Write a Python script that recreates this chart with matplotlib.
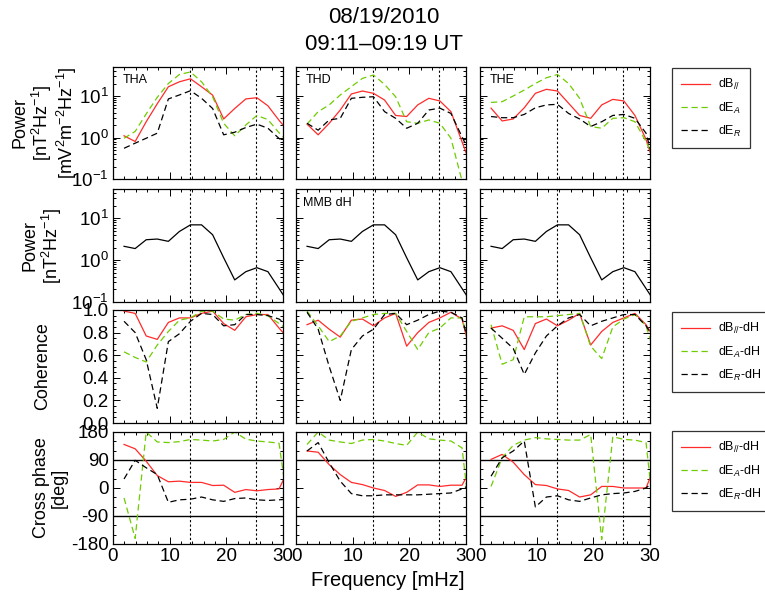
import matplotlib.pyplot as plt
from matplotlib.lines import Line2D
from matplotlib.ticker import (MultipleLocator, LogLocator, NullFormatter,
                               LogFormatterMathtext, FormatStrFormatter)

plt.rcParams['font.family'] = ['Liberation Sans', 'DejaVu Sans']
plt.rcParams['mathtext.fontset'] = 'custom'
plt.rcParams['mathtext.rm'] = 'Liberation Sans'
plt.rcParams['mathtext.it'] = 'Liberation Sans:italic'
plt.rcParams['mathtext.bf'] = 'Liberation Sans:bold'

# data ------------------------------------------

freq = [1.95, 3.91, 5.86, 7.81, 9.77, 11.72, 13.67, 15.63,
        17.58, 19.53, 21.48, 23.44, 25.39, 27.34, 29.30, 31.25]   # mHz

stations = ['THA', 'THD', 'THE']
marks = [13.6, 25.3]    # dotted frequency markers

# power spectra [nT^2/Hz], [mV^2/m^2/Hz]
tha_db = [1.1, 0.8, 2.4, 6.5, 16.7, 22, 26, 16.7, 10.5, 2.8, 5.0, 8.5, 9.1, 5.8, 2.6, 1.25]
tha_ea = [0.96, 1.4, 3.7, 9.3, 20, 33, 38, 22, 9.6, 2.2, 1.1, 2.0, 3.4, 2.7, 1.3, 0.7]
tha_er = [0.55, 0.73, 0.96, 1.27, 8.5, 10.6, 13.4, 8.8, 5.0, 1.16, 1.34, 1.74, 2.1, 1.67, 0.95, 0.58]

thd_db = [2.1, 1.16, 2.2, 4.6, 11.2, 13.2, 11.6, 8.0, 3.4, 3.2, 6.1, 8.8, 7.6, 4.2, 0.79, 0.15]
thd_ea = [2.1, 4.2, 6.1, 10.6, 16.8, 26.6, 32, 19, 9.6, 2.4, 2.2, 2.65, 2.2, 0.96, 0.09, 0.02]
thd_er = [2.2, 1.5, 2.65, 2.9, 8.8, 9.3, 9.6, 4.2, 2.9, 1.67, 2.2, 4.6, 5.1, 3.8, 1.04, 0.29]

the_db = [5.1, 2.5, 2.8, 5.2, 11.6, 14.5, 13.2, 6.7, 3.4, 2.9, 6.1, 8.3, 7.6, 3.4, 0.9, 0.13]
the_ea = [7.0, 7.3, 10, 13.9, 20, 27.5, 33, 20, 8.8, 1.84, 1.67, 2.9, 3.0, 2.4, 0.8, 0.23]
the_er = [3.2, 3.0, 3.0, 3.6, 5.2, 6.1, 6.3, 3.8, 2.8, 1.84, 2.4, 3.4, 3.6, 2.9, 1.27, 0.13]

# ground magnetometer
mmb_dh = [2.14, 1.89, 3.07, 3.19, 2.81, 4.84, 6.96, 6.96, 4.04, 1.14, 0.337, 0.53, 0.66, 0.53, 0.21, 0.083]

# coherence with MMB dH
tha_coh_db = [0.99, 0.97, 0.77, 0.74, 0.89, 0.93, 0.93, 0.97, 0.99, 0.88, 0.82, 0.94, 0.96, 0.96, 0.84, 0.73]
tha_coh_ea = [0.63, 0.58, 0.54, 0.69, 0.81, 0.91, 0.93, 0.99, 0.99, 0.92, 0.91, 0.96, 0.97, 0.95, 0.88, 0.81]
tha_coh_er = [0.90, 0.80, 0.56, 0.13, 0.72, 0.79, 0.90, 0.97, 0.96, 0.86, 0.87, 0.96, 0.96, 0.95, 0.92, 0.85]

thd_coh_db = [0.87, 0.91, 0.83, 0.76, 0.91, 0.92, 0.86, 0.93, 0.97, 0.68, 0.80, 0.89, 0.93, 0.98, 0.92, 0.53]
thd_coh_ea = [0.99, 0.86, 0.72, 0.77, 0.90, 0.93, 0.96, 0.97, 0.97, 0.81, 0.65, 0.80, 0.84, 0.93, 0.93, 0.56]
thd_coh_er = [0.98, 0.83, 0.50, 0.20, 0.65, 0.77, 0.83, 0.96, 0.97, 0.87, 0.91, 0.96, 0.99, 0.98, 0.93, 0.56]

the_coh_db = [0.84, 0.86, 0.82, 0.65, 0.88, 0.92, 0.86, 0.91, 0.97, 0.69, 0.81, 0.89, 0.93, 0.97, 0.87, 0.71]
the_coh_ea = [0.87, 0.52, 0.56, 0.94, 0.94, 0.94, 0.95, 0.96, 0.97, 0.68, 0.57, 0.85, 0.92, 0.96, 0.86, 0.55]
the_coh_er = [0.84, 0.75, 0.66, 0.43, 0.62, 0.77, 0.86, 0.93, 0.96, 0.86, 0.90, 0.93, 0.96, 0.96, 0.86, 0.70]

# cross phase with MMB dH [deg]
tha_ph_db = [140, 126, 86, 40, 20, 22, 18, 18, 8, 9, -14, -5, -9, -5, -3, 71]
tha_ph_ea = [-32, -162, 180, 148, 146, 149, 156, 154, 151, 156, 180, 157, 151, 148, 144, -109]
tha_ph_er = [29, 89, 65, 43, -46, -38, -36, -29, -38, -43, -34, -32, -38, -40, -38, -35]

thd_ph_db = [119, 115, 75, 43, 18, 11, 0, -8, -27, -14, 10, 10, 5, 9, 9, 74]
thd_ph_ea = [140, 180, 154, 148, 143, 154, 156, 151, 143, 137, 180, 158, 154, 151, 129, -180]
thd_ph_er = [119, 146, 81, 22, -18, -25, -25, -22, -22, -22, -22, -20, -18, -16, -3, 15]

the_ph_db = [92, 108, 83, 43, 11, 8, -3, -8, -29, -22, 5, 5, 0, 0, 0, 89]
the_ph_ea = [5, 97, 137, 154, 162, 158, 156, 154, 154, 172, -165, 165, 156, 154, 146, -180]
the_ph_er = [38, 97, 119, 151, -61, -29, -25, -38, -43, -32, -22, -18, -16, -11, 0, 29]

power = [(tha_db, tha_ea, tha_er), (thd_db, thd_ea, thd_er), (the_db, the_ea, the_er)]
coh = [(tha_coh_db, tha_coh_ea, tha_coh_er), (thd_coh_db, thd_coh_ea, thd_coh_er),
       (the_coh_db, the_coh_ea, the_coh_er)]
phase = [(tha_ph_db, tha_ph_ea, tha_ph_er), (thd_ph_db, thd_ph_ea, thd_ph_er),
         (the_ph_db, the_ph_ea, the_ph_er)]

# styles ----------------------------------------

red   = '#ff2b2b'
green = '#6fcc00'
styles = [dict(color=red, lw=0.9, ls='-'),
          dict(color=green, lw=0.9, ls=(0, (5, 3))),
          dict(color='k', lw=0.9, ls=(0, (5, 3)))]

W, H = 765, 606
col_x = [113, 296, 480]
row_y = [(67, 179), (189, 302), (310, 423), (432, 544)]
pw = 170

fig = plt.figure(figsize=(W / 100, H / 100), dpi=100)


def make_ax(r, c):
    top, bot = row_y[r]
    ax = fig.add_axes([col_x[c] / W, 1 - bot / H, pw / W, (bot - top) / H])
    ax.set_xlim(0, 30)
    ax.xaxis.set_major_locator(MultipleLocator(10))
    ax.xaxis.set_minor_locator(MultipleLocator(2))
    ax.tick_params(which='both', direction='in', top=True, right=True, width=0.7,
                   labelsize=13.5, pad=3)
    ax.tick_params(which='major', length=5)
    ax.tick_params(which='minor', length=2.5)
    for s in ax.spines.values():
        s.set_linewidth(0.9)
    for m in marks:
        ax.axvline(m, color='k', lw=0.8, ls=(0, (2, 2)))
    if r < 3:
        ax.set_xticklabels([])
    if c > 0:
        ax.set_yticklabels([])
    return ax


def log_axis(ax, c):
    ax.set_yscale('log')
    ax.set_ylim(0.1, 50)
    ax.yaxis.set_major_locator(LogLocator(base=10))
    ax.yaxis.set_minor_locator(LogLocator(base=10, subs=range(2, 10)))
    ax.yaxis.set_minor_formatter(NullFormatter())
    if c == 0:
        ax.yaxis.set_major_formatter(LogFormatterMathtext())
    else:
        ax.yaxis.set_major_formatter(NullFormatter())


for c in range(3):
    # row 1: satellite power
    ax = make_ax(0, c)
    for vals, st in zip(power[c], styles):
        ax.plot(freq, vals, **st)
    log_axis(ax, c)
    ax.text(0.06, 0.88, stations[c], transform=ax.transAxes, fontsize=9, va='center')

    # row 2: ground power
    ax = make_ax(1, c)
    ax.plot(freq, mmb_dh, color='k', lw=0.9)
    log_axis(ax, c)
    if c == 1:
        ax.text(0.04, 0.88, 'MMB dH', transform=ax.transAxes, fontsize=9, va='center')

    # row 3: coherence
    ax = make_ax(2, c)
    for vals, st in zip(coh[c], styles):
        ax.plot(freq, vals, **st)
    ax.set_ylim(0, 1.0)
    ax.yaxis.set_major_locator(MultipleLocator(0.2))
    ax.yaxis.set_minor_locator(MultipleLocator(0.05))
    if c == 0:
        ax.yaxis.set_major_formatter(FormatStrFormatter('%.1f'))

    # row 4: cross phase
    ax = make_ax(3, c)
    for h in (90, -90):
        ax.axhline(h, color='k', lw=1.0)
    for vals, st in zip(phase[c], styles):
        ax.plot(freq, vals, **st)
    ax.set_ylim(-180, 180)
    ax.yaxis.set_major_locator(MultipleLocator(90))
    ax.yaxis.set_minor_locator(MultipleLocator(30))
    if c == 0:
        ax.set_yticks([-180, -90, 0, 90, 180])
        ax.set_yticklabels(['-180', '-90', '0', '90', '180'])

# y labels --------------------------------------

def ylab(x, r, s):
    top, bot = row_y[r]
    fig.text(x / W, 1 - (top + bot) / 2 / H, s, rotation=90, ha='center', va='center',
             fontsize=13, multialignment='center', linespacing=1.05)

ylab(45, 0, 'Power\n[nT$^2$Hz$^{-1}$]\n[mV$^2$m$^{-2}$Hz$^{-1}$]')
ylab(43, 1, 'Power\n[nT$^2$Hz$^{-1}$]')
ylab(43, 2, 'Coherence')
ylab(50, 3, 'Cross phase\n[deg]')

# title and x label -----------------------------

fig.text(384 / W, 1 - 31 / H, '08/19/2010\n09:11\u201309:19 UT', ha='center', va='center',
         fontsize=16, linespacing=1.4)
fig.text(388 / W, 1 - 580 / H, 'Frequency [mHz]', ha='center', va='center', fontsize=14.5)

# legends ---------------------------------------

def legend(top, labels):
    handles = [Line2D([], [], **st) for st in styles]
    leg = fig.legend(handles, labels, loc='upper left',
                     bbox_to_anchor=(672 / W, 1 - top / H), fontsize=9,
                     frameon=True, fancybox=False, edgecolor='k', handlelength=2.3,
                     labelspacing=0.65, borderpad=0.75, handletextpad=0.6,
                     borderaxespad=0)
    leg.get_frame().set_linewidth(0.9)

legend(68, ['dB$_{//}$', 'dE$_{A}$', 'dE$_{R}$'])
legend(312, ['dB$_{//}$-dH', 'dE$_{A}$-dH', 'dE$_{R}$-dH'])
legend(431, ['dB$_{//}$-dH', 'dE$_{A}$-dH', 'dE$_{R}$-dH'])

fig.savefig('out.png', dpi=100)
